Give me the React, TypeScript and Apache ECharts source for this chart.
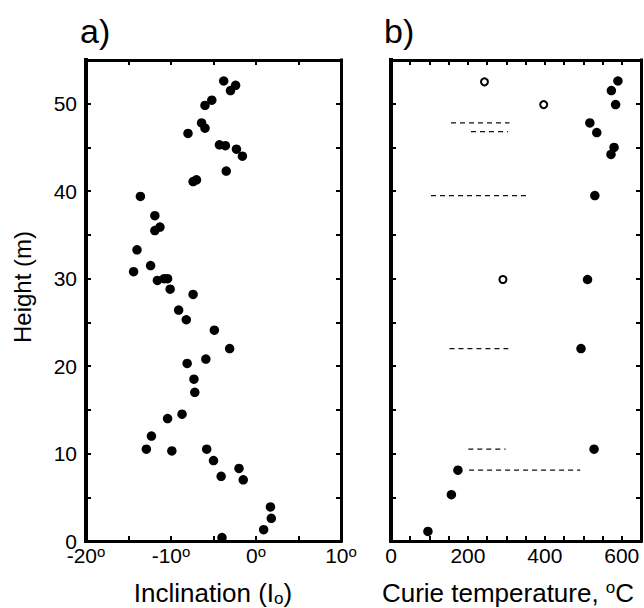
import React, { useEffect, useRef } from "react";
import * as echarts from "echarts";

// Panel a: inclination vs height
const incValue = [
  -3.8, -2.4, -3.0, -5.2, -6.0, -6.4, -6.0, -8.0, -4.3, -3.6, -2.3, -1.6, -3.5, -7.0, -7.4,
  -13.6, -11.9, -11.3, -11.9, -14.0, -12.4, -14.4, -11.6, -10.8, -10.4, -10.1, -7.4, -9.1,
  -8.2, -4.9, -3.1, -5.9, -8.1, -7.3, -7.2, -8.7, -10.4, -12.3, -12.9, -9.9, -5.8, -5.0,
  -2.0, -4.1, -1.5, 1.7, 1.8, 0.9, -4.0,
];
const incHeight = [
  52.6, 52.1, 51.5, 50.4, 49.8, 47.8, 47.2, 46.6, 45.3, 45.2, 44.8, 44.0, 42.3, 41.3, 41.1,
  39.4, 37.2, 35.9, 35.5, 33.3, 31.5, 30.8, 29.8, 30.0, 30.0, 28.8, 28.2, 26.4,
  25.3, 24.1, 22.0, 20.8, 20.3, 18.5, 17.0, 14.5, 14.0, 12.0, 10.5, 10.3, 10.5, 9.2,
  8.3, 7.4, 7.0, 3.9, 2.6, 1.3, 0.4,
];

// Panel b: Curie temperature vs height
const filledTemp = [590, 573, 584, 517, 535, 580, 572, 530, 511, 494, 528, 174, 157, 96];
const filledHeight = [52.6, 51.5, 49.9, 47.8, 46.7, 45.0, 44.2, 39.5, 29.9, 22.0, 10.5, 8.1, 5.3, 1.1];
const openTemp = [243, 397, 291];
const openHeight = [52.5, 49.9, 29.9];
const dashHeight = [47.8, 46.8, 39.5, 22.0, 10.5, 8.1];
const dashStart = [156, 208, 104, 152, 201, 203];
const dashEnd = [308, 304, 358, 305, 298, 492];

const incTicks = [-20, -10, 0, 10];
const curieTicks = [0, 200, 400, 600];
const heightTicks = [0, 10, 20, 30, 40, 50];

const FONT = "Liberation Sans, Arial, Helvetica, sans-serif";

export default function App() {
  const ref = useRef<HTMLDivElement>(null);
  useEffect(() => {
    if (!ref.current) return;
    const chart = echarts.init(ref.current, undefined, { renderer: "svg" });
    const tickCommon = { show: true, inside: true, length: 5, lineStyle: { color: "#000", width: 2 } };
    const lineCommon = (w: number) => ({ show: true, onZero: false, lineStyle: { color: "#000", width: w, cap: "square" } });
    const labelRich = {
      n: { fontSize: 21, fontFamily: FONT, color: "#000", lineHeight: 22 },
      d: { fontSize: 15, fontFamily: FONT, color: "#000", verticalAlign: "top", lineHeight: 8 },
    };
    const xBase = (gridIndex: number, position: string, min: number, max: number, interval: number, labels: number[] | null, deg: boolean) => ({
      type: "value",
      gridIndex,
      position,
      min,
      max,
      interval,
      axisLine: lineCommon(3),
      axisTick: tickCommon,
      splitLine: { show: false },
      axisLabel: labels
        ? {
            show: true,
            margin: 3,
            rich: labelRich,
            formatter: (v: number) => (labels.includes(v) ? (deg ? `{n|${v}}{d|o}` : `{n|${v}}`) : ""),
          }
        : { show: false },
    });
    const yBase = (gridIndex: number, position: string, labels: number[] | null, w: number) => ({
      type: "value",
      gridIndex,
      position,
      min: 0,
      max: 55,
      interval: 5,
      axisLine: lineCommon(w),
      axisTick: tickCommon,
      splitLine: { show: false },
      axisLabel: labels
        ? {
            show: true,
            margin: 9,
            fontSize: 21,
            fontFamily: FONT,
            color: "#000",
            lineHeight: 16,
            formatter: (v: number) => (labels.includes(v) ? `${v}` : ""),
          }
        : { show: false },
    });
    const dashSeries = dashHeight.map((h, i) => ({
      type: "line",
      xAxisIndex: 2,
      yAxisIndex: 2,
      symbol: "none",
      data: [
        [dashStart[i], h],
        [dashEnd[i], h],
      ],
      lineStyle: { color: "#111", width: 1.3, type: [5, 4] },
      z: 1,
    }));
    chart.setOption({
      animation: false,
      grid: [
        { left: 86, right: 303, top: 60, bottom: 67 },
        { left: 391, right: 3, top: 60, bottom: 67 },
      ],
      xAxis: [
        xBase(0, "bottom", -20, 10, 5, incTicks, true),
        xBase(0, "top", -20, 10, 5, null, false),
        xBase(1, "bottom", 0, 650, 50, curieTicks, false),
        xBase(1, "top", 0, 650, 50, null, false),
      ],
      yAxis: [
        yBase(0, "left", heightTicks, 4),
        yBase(0, "right", null, 3),
        yBase(1, "left", null, 4),
        yBase(1, "right", null, 3),
      ],
      series: [
        {
          type: "scatter",
          xAxisIndex: 0,
          yAxisIndex: 0,
          symbolSize: 9.5,
          itemStyle: { color: "#000", opacity: 1 },
          data: incValue.map((v, i) => [v, incHeight[i]]),
        },
        ...dashSeries,
        {
          type: "scatter",
          xAxisIndex: 2,
          yAxisIndex: 2,
          symbolSize: 9.5,
          itemStyle: { color: "#000", opacity: 1 },
          data: filledTemp.map((v, i) => [v, filledHeight[i]]),
          z: 3,
        },
        {
          type: "scatter",
          xAxisIndex: 2,
          yAxisIndex: 2,
          symbolSize: 7,
          itemStyle: { color: "#fff", borderColor: "#000", borderWidth: 2, opacity: 1 },
          data: openTemp.map((v, i) => [v, openHeight[i]]),
          z: 3,
        },
      ],
      graphic: [
        {
          type: "text",
          left: 80,
          top: 14,
          style: { text: "a)", font: `34px ${FONT}`, fill: "#000" },
        },
        {
          type: "text",
          left: 384,
          top: 14,
          style: { text: "b)", font: `34px ${FONT}`, fill: "#000" },
        },
        {
          type: "text",
          x: 22,
          y: 287,
          rotation: Math.PI / 2,
          style: {
            text: "Height (m)",
            font: `24px ${FONT}`,
            fill: "#000",
            align: "center",
            verticalAlign: "middle",
          },
        },
        {
          type: "text",
          x: 213,
          y: 593,
          style: {
            text: "{a|Inclination (I}{s|o}{a|)}",
            align: "center",
            verticalAlign: "middle",
            rich: {
              a: { fontSize: 26, fontFamily: FONT, color: "#000", lineHeight: 28 },
              s: { fontSize: 17, fontFamily: FONT, color: "#000", verticalAlign: "bottom", lineHeight: 18, padding: [12, 0, 0, 0] },
            },
          },
        },
        {
          type: "text",
          x: 508,
          y: 593,
          style: {
            text: "{a|Curie temperature, }{s|o}{a|C}",
            align: "center",
            verticalAlign: "middle",
            rich: {
              a: { fontSize: 26, fontFamily: FONT, color: "#000", lineHeight: 28 },
              s: { fontSize: 17, fontFamily: FONT, color: "#000", verticalAlign: "top", lineHeight: 16, padding: [0, 0, 8, 0] },
            },
          },
        },
      ],
    });
    return () => chart.dispose();
  }, []);
  return <div ref={ref} style={{ width: 644, height: 608, position: "absolute", left: 0, top: 0, background: "#fff" }} />;
}
